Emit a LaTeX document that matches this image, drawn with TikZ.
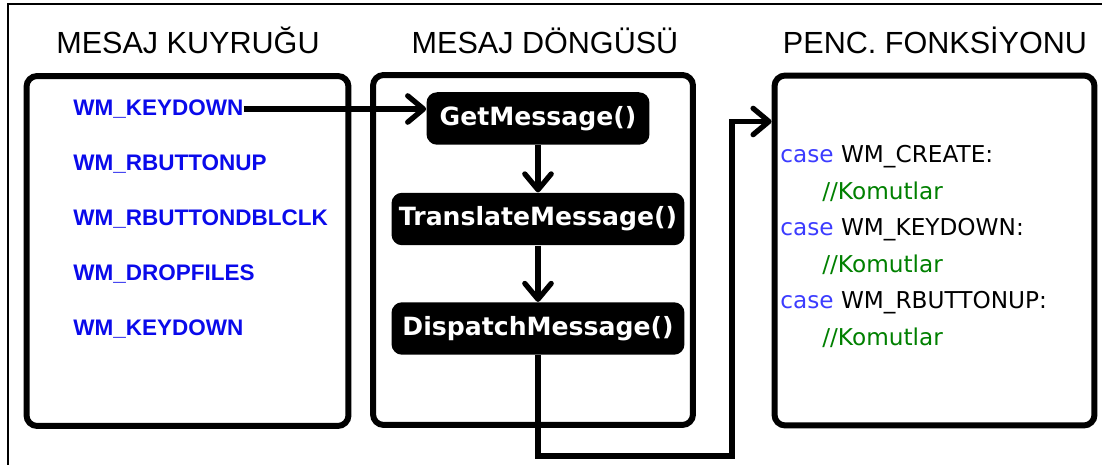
\documentclass[tikz,border=0pt]{standalone}
\usepackage{fontspec}
\setmainfont{DejaVu Sans}
\newfontfamily\headfont{Liberation Sans}
\newfontfamily\listfont{Liberation Sans}
\usetikzlibrary{arrows.meta}
\definecolor{msgblue}{RGB}{10,10,235}
\definecolor{kwblue}{RGB}{60,60,255}
\definecolor{cmtgreen}{RGB}{0,128,0}

\begin{document}
\begin{tikzpicture}[x=0.02cm, y=-0.02cm,
		>={Straight Barb[length=9pt,width=15pt,round]},
		panel/.style={draw, line width=3.4pt, rounded corners=6pt, minimum width=6.4cm, minimum height=7cm, inner sep=0pt},
		call/.style={fill=black, rounded corners=6pt, text=white, font=\bfseries\fontsize{14.3}{16}\selectfont, inner sep=0pt, minimum width=5.86cm, minimum height=1.05cm},
		head/.style={anchor=base, inner sep=0pt, font=\headfont\fontsize{17.4}{20}\selectfont},
		msg/.style={anchor=west, inner sep=0pt, text=msgblue, font=\listfont\bfseries\fontsize{12.8}{14}\selectfont},
		code/.style={anchor=base west, inner sep=0pt, font=\fontsize{13.2}{15}\selectfont},
		flow/.style={->, line width=3pt}]
		\useasboundingbox (0,0) rectangle (1102,465);
		\draw[line width=1.1pt] (8,465) -- (8,4) -- (1102,4);
		
		% Titles
		\node[head] (tq) at (188,54) {MESAJ KUYRUĞU};
		\node[head] (tl) at (545,54) {MESAJ DÖNGÜSÜ};
		\node[head] (tw) at (935,54) {PENC. FONKSİYONU};
		
		% Panels
		\node[panel, minimum width=6.44cm] (queue) at (187.5,251) {};
		\node[panel] (loop) at (533,250) {};
		\node[panel] (wndproc) at (934.5,250.5) {};
		
		% Message queue
		\node[msg] (k1) at (73,109) {WM\_KEYDOWN};
		\node[msg] (k2) at (73,164) {WM\_RBUTTONUP};
		\node[msg] (k3) at (73,219) {WM\_RBUTTONDBLCLK};
		\node[msg] (k4) at (73,274) {WM\_DROPFILES};
		\node[msg] (k5) at (73,329) {WM\_KEYDOWN};
		
		% Message loop
		\node[call, minimum width=4.46cm] (get) at (538,118.5) {GetMessage()};
		\node[call] (trans) at (538,219) {TranslateMessage()};
		\node[call] (disp) at (538,328.5) {DispatchMessage()};
		
		% Window procedure
		\node[code] (c1) at (780,163) {\textcolor{kwblue}{case} WM\_CREATE:};
		\node[code, text=cmtgreen] (c2) at (822,199.5) {//Komutlar};
		\node[code] (c3) at (780,236) {\textcolor{kwblue}{case} WM\_KEYDOWN:};
		\node[code, text=cmtgreen] (c4) at (822,272.5) {//Komutlar};
		\node[code] (c5) at (780,309) {\textcolor{kwblue}{case} WM\_RBUTTONUP:};
		\node[code, text=cmtgreen] (c6) at (822,345.5) {//Komutlar};
		
		% Lines
		\coordinate (low) at (732,456);
		\coordinate (entry) at (wndproc.west |- 0,121.5);
		\draw[flow] (k1.east) -- (k1.east -| get.west);
		\draw[flow] (get) -- (trans);
		\draw[flow] (trans) -- (disp);
		\draw[flow] (disp.south) |- (low) |- (entry);
		
	\end{tikzpicture}
\end{document}
